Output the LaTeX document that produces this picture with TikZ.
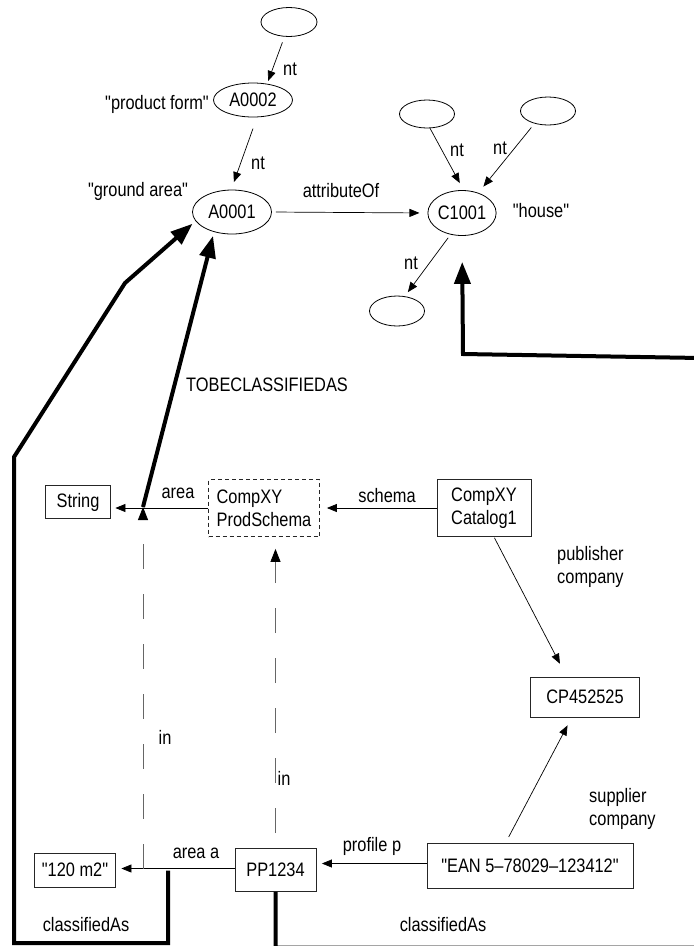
\documentclass[tikz,border=0pt]{standalone}
\usepackage{fontspec}
\setmainfont{Liberation Sans}[Ligatures=TeXOff, FakeStretch=0.84]
\usetikzlibrary{arrows.meta,shapes.geometric,calc}
\begin{document}
\begin{tikzpicture}[x=1pt,y=-1pt,
  every node/.style={font=\fontsize{19.5}{23}\selectfont, inner sep=0pt},
  ell/.style={draw, ellipse, line width=0.8pt},
  box/.style={draw=black!85, line width=0.8pt, rectangle, align=center},
  dbox/.style={box, dash pattern=on 4pt off 3pt},
  arrThin/.style={line width=0.7pt, -{Triangle[length=10pt,width=8pt]}},
  arrThick/.style={line width=4pt, -{Triangle[length=22pt,width=16pt]}},
  dsh/.style={draw=black!60, line width=0.8pt, dash pattern=on 25pt off 25pt, -{Triangle[length=13pt,width=10pt,color=black]}}
]
\path[use as bounding box] (0,0) rectangle (694,946);
\clip (0,0) rectangle (694,946);

% ellipses
\node[ell, minimum width=56pt, minimum height=29pt] (top) at (289,22) {};
\node[ell, minimum width=79pt, minimum height=34pt] (a2) at (253,100) {A0002};
\node[ell, minimum width=79pt, minimum height=44pt] (a1) at (232,212) {A0001};
\node[ell, minimum width=64pt, minimum height=45pt] (c1) at (462,213) {C1001};
\node[ell, minimum width=55pt, minimum height=28pt] (e1) at (427,114) {};
\node[ell, minimum width=55pt, minimum height=28pt] (e2) at (548,111) {};
\node[ell, minimum width=55pt, minimum height=30pt] (e3) at (397,311) {};

% ellipse labels
\node (pf) at (157,104) {"product form"};
\node (ga) at (138,191) {"ground area"};
\node (hs) at (541,211) {"house"};
\node (ao) at (341,191) {attributeOf};
\node (nt1) at (290,69) {nt};
\node (nt2) at (258,163) {nt};
\node (nt3) at (457,150) {nt};
\node (nt4) at (500,148) {nt};
\node (nt5) at (411,263) {nt};

% boxes
\node[box, minimum width=65pt, minimum height=33pt] (str) at (78,502) {String};
\node[dbox, minimum width=111pt, minimum height=57pt, align=left] (ps) at (264,508) {CompXY\\ProdSchema};
\node[box, minimum width=94pt, minimum height=57pt] (cat) at (484,508) {CompXY\\Catalog1};
\node[box, minimum width=109pt, minimum height=40pt] (cp) at (585,697) {CP452525};
\node[box, minimum width=206pt, minimum height=45pt] (ean) at (530,866) {"EAN 5–78029–123412"};
\node[box, minimum width=81pt, minimum height=43pt] (pp) at (275.5,870) {PP1234};
\node[box, minimum width=81pt, minimum height=34pt] (m2) at (75,870) {"120 m2"};

% edge labels
\node (lArea) at (178,493) {area};
\node (lSchema) at (387,496) {schema};
\node (lProfile) at (372,846) {profile p};
\node (lAreaA) at (196,853) {area a};
\node (lTob) at (267,385) {TOBECLASSIFIEDAS};
\node (lIn1) at (165,737) {in};
\node (lIn2) at (284,778) {in};
\node (lCl1) at (86,925) {classifiedAs};
\node (lCl2) at (443,925) {classifiedAs};
\node[anchor=west, align=left] (lPub) at (557,567) {publisher\\company};
\node[anchor=west, align=left] (lSup) at (589,809) {supplier\\company};

% coordinates for free ends / bends
\coordinate (jA) at (143,507);
\coordinate (jB) at (143,868.5);
\coordinate (lA) at (168,870.5);
\coordinate (l1) at (168,943);
\coordinate (l2) at (14,943);
\coordinate (l3) at (14,457);
\coordinate (l4) at (125,283);
\coordinate (r2) at (700,947.5);
\coordinate (r3) at (700,358);
\coordinate (r4) at (463,354);

% thin arrows in the upper graph
\draw[arrThin, shorten <=6pt, shorten >=3pt] (top.253) -- (a2.49);
\draw[arrThin, shorten <=12pt, shorten >=8pt] (a2.283) -- (a1.92);
\draw[arrThin, shorten <=4pt, shorten >=8pt] (a1.east) -- (c1.west);
\draw[arrThin, shorten >=8pt] (e1.282) -- (c1.86);
\draw[arrThin, shorten <=5pt, shorten >=8pt] (e2.223) -- (c1.51);
\draw[arrThin, shorten <=4pt, shorten >=5pt] (c1.242) -- (e3.62);

% thin arrows lower graph
\draw[arrThin, shorten >=4.5pt] (ps.west) -- (ps.west -| str.east);
\draw[arrThin, shorten >=7pt] (cat.west) -- (cat.west -| ps.east);
\draw[arrThin, shorten <=1pt, shorten >=14.5pt] (cat.-71) -- (cp.132);
\draw[arrThin, shorten <=7pt, shorten >=9pt] (ean.137) -- (cp.237);
\draw[arrThin, shorten >=5.5pt] ([yshift=2.5pt]ean.west) -- ([yshift=2.5pt]ean.west -| pp.east);
\draw[arrThin, shorten >=5.5pt] ([yshift=1.5pt]pp.west) -- ([yshift=1.5pt]pp.west -| m2.east);

% dashed "in" arrows
\draw[dsh] (jB) -- (jA);
\draw[dsh, dash phase=35pt, shorten >=12pt] (pp.north) -- (pp.north |- ps.south);

% thick arrows
\draw[arrThick, shorten >=4pt] (jA) -- (a1.228);
\draw[arrThick, shorten >=4pt] (lA) -- (l1) -- (l2) -- (l3) -- (l4) -- (a1.194);
\draw[arrThick, shorten >=26pt] (pp.south) -- (pp.south |- r2) -- (r2) -- (r3) -- (r4) -- (c1.south);
\end{tikzpicture}
\end{document}
